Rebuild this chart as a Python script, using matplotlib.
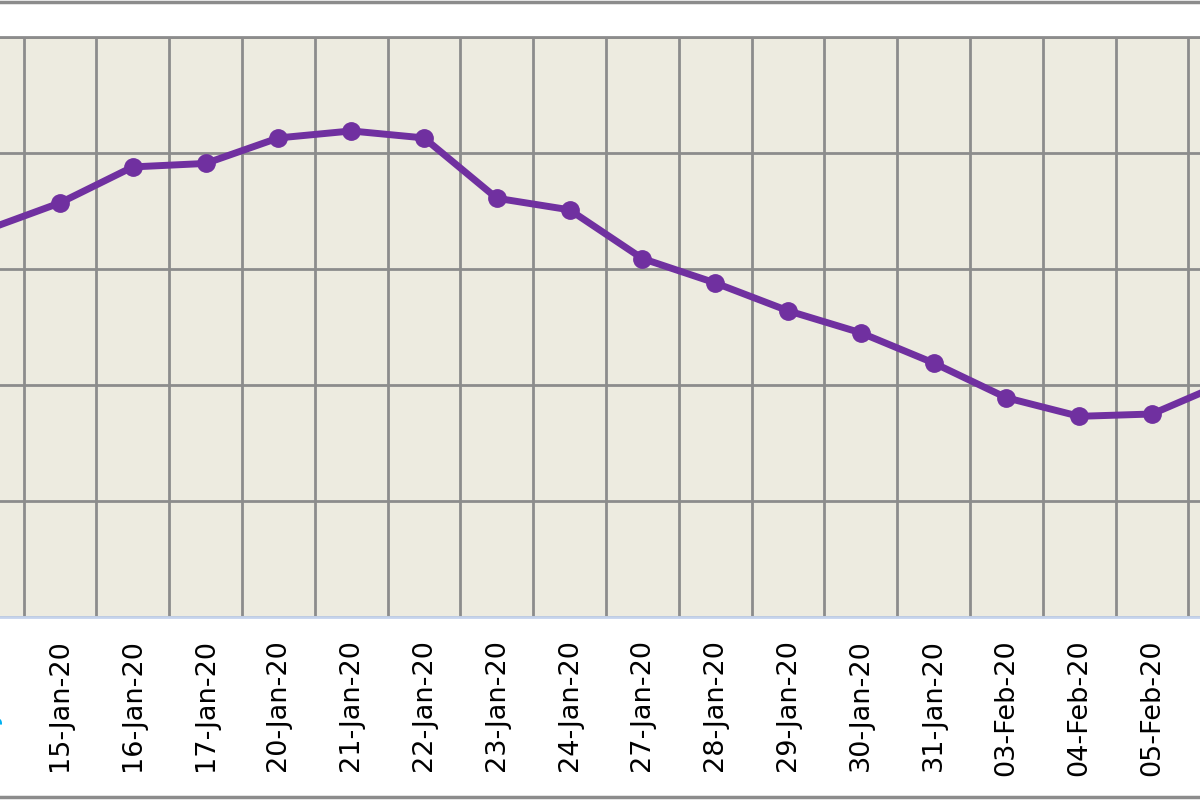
import matplotlib.pyplot as plt
from matplotlib.lines import Line2D

# Daily series (one point per trading day); first and last sit just outside the view
dates = ['14-Jan-20', '15-Jan-20', '16-Jan-20', '17-Jan-20', '20-Jan-20', '21-Jan-20',
         '22-Jan-20', '23-Jan-20', '24-Jan-20', '27-Jan-20', '28-Jan-20', '29-Jan-20',
         '30-Jan-20', '31-Jan-20', '03-Feb-20', '04-Feb-20', '05-Feb-20', '06-Feb-20']
values = [3.34, 3.57, 3.88, 3.91, 4.13, 4.19, 4.13, 3.61, 3.51, 3.09, 2.88, 2.64,
          2.45, 2.19, 1.89, 1.73, 1.75, 2.02]

line_color = '#7030A0'
bg_color = '#EDEBE0'
grid_color = '#8C8C8C'

fig = plt.figure(figsize=(12, 8), dpi=100)
fig.patch.set_facecolor('white')

# plot area: pixels 37..617 vertically, full width (the chart is cropped left and right)
ax = fig.add_axes([0, (800 - 617) / 800, 1, (617 - 37) / 800])
ax.set_facecolor(bg_color)

x = list(range(len(dates)))
ax.plot(x, values, color=line_color, linewidth=5, marker='o', markersize=12.5,
        solid_joinstyle='round', zorder=3)

# grid: vertical lines between categories, horizontal every unit
ax.set_xticks([i + 0.5 for i in range(-1, len(dates))], minor=True)
ax.set_yticks(range(0, 6))
ax.grid(True, which='minor', axis='x', color=grid_color, linewidth=2)
ax.grid(True, which='major', axis='y', color=grid_color, linewidth=2)
ax.set_axisbelow(True)

ax.set_xticks(x)
ax.set_xticklabels(dates, rotation=90, fontsize=19.5, family='DejaVu Sans')
ax.tick_params(axis='x', which='both', length=0, pad=16)
ax.tick_params(axis='y', length=0, labelleft=False)

# the view is cropped: 15-Jan sits at pixel 60, 72.8 px per day
ax.set_xlim(1 - 60 / 72.8, 1 + 1140 / 72.8)
ax.set_ylim(0, 5)

for side in ['left', 'right']:
    ax.spines[side].set_visible(False)
ax.spines['top'].set_color(grid_color)
ax.spines['top'].set_linewidth(2)
ax.spines['bottom'].set_color('#C5D3EC')
ax.spines['bottom'].set_linewidth(2)

# first label, mostly cut off at the left edge, shown highlighted
ax.text(0, -16 / 580, dates[0], rotation=90, fontsize=19.5, color='#00B0F0',
        ha='center', va='top', transform=ax.get_xaxis_transform(), clip_on=False)

# outer chart frame lines
fig.add_artist(Line2D([0, 1], [1 - 1.5 / 800, 1 - 1.5 / 800], color=grid_color, linewidth=2.5))
fig.add_artist(Line2D([0, 1], [3 / 800, 3 / 800], color=grid_color, linewidth=2.5))

fig.savefig('out.png', dpi=100)
